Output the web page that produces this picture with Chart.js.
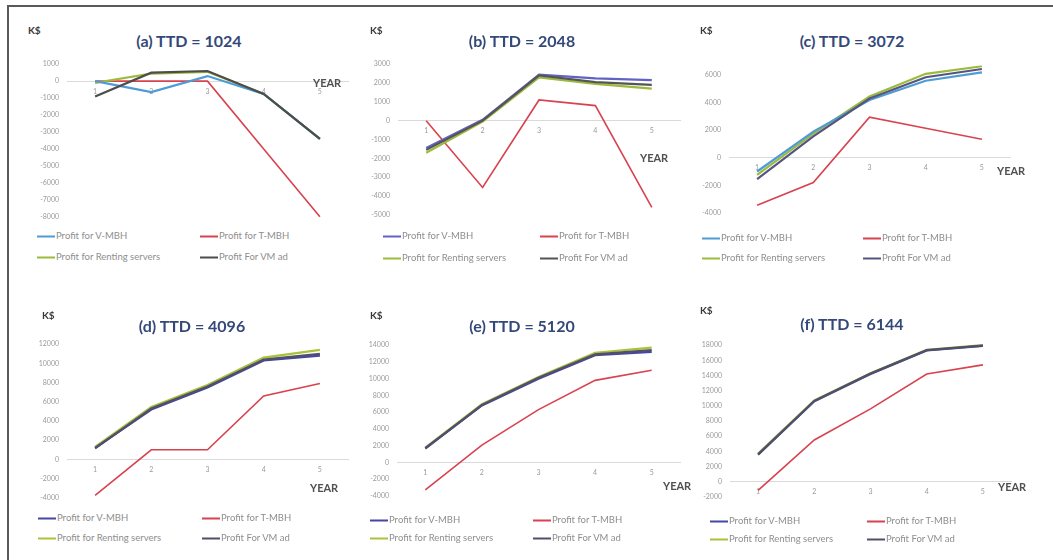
<!DOCTYPE html>
<html>
<head>
<meta charset="utf-8">
<script src="https://cdn.jsdelivr.net/npm/chart.js@4.4.1/dist/chart.umd.min.js"></script>
<style>
  html, body { margin: 0; padding: 0; background: #fff; }
  #fig { position: relative; width: 1053px; height: 560px; overflow: hidden; font-family: Lato, 'Open Sans', sans-serif; }
  .frame-top { position: absolute; left: 7px; top: 5px; right: 0; height: 0; border-top: 2px solid #5a5a5a; }
  .frame-left { position: absolute; left: 7px; top: 5px; bottom: 0; width: 0; border-left: 2px solid #5a5a5a; }
  .plot { position: absolute; }
  .title { position: absolute; font-weight: bold; font-size: 16px; color: #34497a; transform: translate(-50%, -50%); white-space: nowrap; }
  .unit { position: absolute; font-weight: bold; font-size: 10px; color: #3a3a3a; transform: translateY(-50%); }
  .yearlbl { position: absolute; font-weight: bold; font-size: 11px; color: #505050; transform: translateY(-50%); }
  .leg { position: absolute; font-size: 9.5px; color: #8e8e8e; white-space: nowrap; transform: translateY(-50%); }
  .leg i { display: inline-block; width: 18px; height: 2px; vertical-align: middle; margin-right: 1px; }
</style>
</head>
<body>
<div id="fig">
  <div class="frame-top"></div>
  <div class="frame-left"></div>
</div>
<script>
// ===== data (k$ per year) =====
const years = ['1', '2', '3', '4', '5'];
const seriesNames = ['Profit for V-MBH', 'Profit for T-MBH', 'Profit for Renting servers', 'Profit For VM ad'];
const panelTitles = ['(a) TTD = 1024', '(b) TTD = 2048', '(c) TTD = 3072', '(d) TTD = 4096', '(e) TTD = 5120', '(f) TTD = 6144'];

const aVmbh = [0, -650, 300, -750, -3400];
const aTmbh = [0, 0, 0, -4000, -8000];
const aRent = [-100, 450, 550, -750, -3400];
const aVmad = [-900, 500, 600, -750, -3400];

const bVmbh = [-1450, 50, 2450, 2250, 2150];
const bTmbh = [0, -3550, 1100, 800, -4600];
const bRent = [-1700, -50, 2300, 1950, 1700];
const bVmad = [-1550, 0, 2400, 2050, 1900];

const cVmbh = [-1000, 1900, 4200, 5600, 6200];
const cTmbh = [-3450, -1800, 2950, 2150, 1350];
const cRent = [-1250, 1750, 4450, 6100, 6650];
const cVmad = [-1550, 1550, 4300, 5850, 6450];

const dVmbh = [1200, 5200, 7500, 10300, 10800];
const dTmbh = [-3750, 1000, 1000, 6600, 7900];
const dRent = [1300, 5450, 7750, 10600, 11400];
const dVmad = [1150, 5300, 7600, 10400, 11000];

const eVmbh = [1700, 6800, 10000, 12800, 13200];
const eTmbh = [-3300, 2050, 6300, 9800, 11000];
const eRent = [1750, 6950, 10200, 13100, 13700];
const eVmad = [1650, 6850, 10100, 12900, 13400];

const fVmbh = [3600, 10600, 14200, 17300, 17900];
const fTmbh = [-1150, 5500, 9600, 14200, 15400];
const fRent = [3700, 10700, 14300, 17400, 18000];
const fVmad = [3550, 10650, 14250, 17350, 17950];

// y axis ranges (tick labels)
const yMins = [-8000, -5000, -4000, -4000, -4000, -2000];
const yMaxs = [1000, 3000, 6000, 12000, 14000, 18000];
const ySteps = [1000, 1000, 2000, 2000, 2000, 2000];

const panelSeries = [
    [aVmbh, aTmbh, aRent, aVmad],
    [bVmbh, bTmbh, bRent, bVmad],
    [cVmbh, cTmbh, cRent, cVmad],
    [dVmbh, dTmbh, dRent, dVmad],
    [eVmbh, eTmbh, eRent, eVmad],
    [fVmbh, fTmbh, fRent, fVmad],
];

// ===== look & placement =====
const palA = ['#4f9bd6', '#d8434f', '#9cbb3c', '#4d4d4d'];
const palB = ['#6262c4', '#d8434f', '#9cbb3c', '#555555'];
const palC = ['#4f9bd6', '#d8434f', '#9cbb3c', '#55557f'];
const palD = ['#4646a6', '#d8434f', '#a9c23a', '#505068'];
const drawOrder = [1, 3, 2, 0];

// plot box (left/right of category band, y of top/bottom tick), title, K$, YEAR, legend
const panels = [
    { L: 67,  R: 348,  T: 62,  B: 219, title: [189, 40], unit: [28, 30],   year: [313, 82],   leg: [37, 200, 235, 256], pal: palA },
    { L: 398, R: 680,  T: 62,  B: 217, title: [522, 40], unit: [370, 30],  year: [640, 157],  leg: [383, 540, 235, 257], pal: palB },
    { L: 729, R: 1010, T: 73,  B: 215, title: [852, 40], unit: [700, 30],  year: [997, 170],  leg: [702, 863, 237, 257], pal: palC },
    { L: 67,  R: 348,  T: 342, B: 500, title: [192, 325], unit: [42, 315], year: [310, 487],  leg: [38, 202, 517, 537], pal: palD },
    { L: 397, R: 680,  T: 343, B: 498, title: [522, 325], unit: [370, 315], year: [663, 485], leg: [370, 533, 519, 537], pal: palD },
    { L: 730, R: 1011, T: 343, B: 499, title: [852, 323], unit: [700, 310], year: [998, 486], leg: [710, 867, 520, 538], pal: palD },
];

const fig = document.getElementById('fig');
const tickGrey = '#9a9a9a';

function addText(cls, text, x, y) {
    const el = document.createElement('div');
    el.className = cls;
    el.textContent = text;
    el.style.left = x + 'px';
    el.style.top = y + 'px';
    fig.appendChild(el);
    return el;
}

function makePanel(i) {
    const p = panels[i];
    const yw = 45;
    const w = p.R - p.L + yw + 2;
    const h = p.B - p.T + 20;

    const cv = document.createElement('canvas');
    cv.className = 'plot';
    cv.width = w;
    cv.height = h;
    cv.style.left = (p.L - yw) + 'px';
    cv.style.top = (p.T - 10) + 'px';
    cv.style.width = w + 'px';
    cv.style.height = h + 'px';
    fig.appendChild(cv);

    const datasets = panelSeries[i].map((vals, k) => ({
        label: seriesNames[k],
        data: vals,
        borderColor: p.pal[k],
        backgroundColor: p.pal[k],
        borderWidth: k === 1 ? 1.6 : 2.2,
        pointRadius: 0,
        tension: 0,
        clip: 10,
        order: drawOrder[k],
    }));

    new Chart(cv, {
        type: 'line',
        data: { labels: years, datasets },
        options: {
            responsive: false,
            animation: false,
            layout: { padding: { top: 10, bottom: 10, left: 0, right: 2 } },
            plugins: { legend: { display: false }, tooltip: { enabled: false } },
            scales: {
                x: {
                    type: 'category',
                    position: { y: 0 },
                    offset: true,
                    grid: { display: false, drawTicks: false },
                    border: { display: true, color: '#dadada', width: 1 },
                    ticks: { color: tickGrey, font: { family: 'Lato', size: 7 }, padding: 6, maxRotation: 0 },
                },
                y: {
                    min: yMins[i],
                    max: yMaxs[i],
                    grid: { display: false, drawTicks: false },
                    border: { display: false },
                    ticks: {
                        stepSize: ySteps[i],
                        autoSkip: false,
                        color: tickGrey,
                        font: { family: 'Lato', size: 7 },
                        padding: 8,
                        callback: v => String(v),
                    },
                    afterFit: s => { s.width = yw; },
                },
            },
        },
    });

    addText('title', panelTitles[i], p.title[0], p.title[1]);
    addText('unit', 'K$', p.unit[0], p.unit[1]);
    addText('yearlbl', 'YEAR', p.year[0], p.year[1]);

    // 2x2 legend: V-MBH | T-MBH / Renting | VM ad
    datasets.forEach((ds, k) => {
        const x = k % 2 === 0 ? p.leg[0] : p.leg[1];
        const y = k < 2 ? p.leg[2] : p.leg[3];
        const el = addText('leg', '', x, y);
        const sw = document.createElement('i');
        sw.style.background = ds.borderColor;
        el.appendChild(sw);
        el.appendChild(document.createTextNode(ds.label));
    });
}

for (let i = 0; i < panels.length; i++) makePanel(i);
</script>
</body>
</html>
